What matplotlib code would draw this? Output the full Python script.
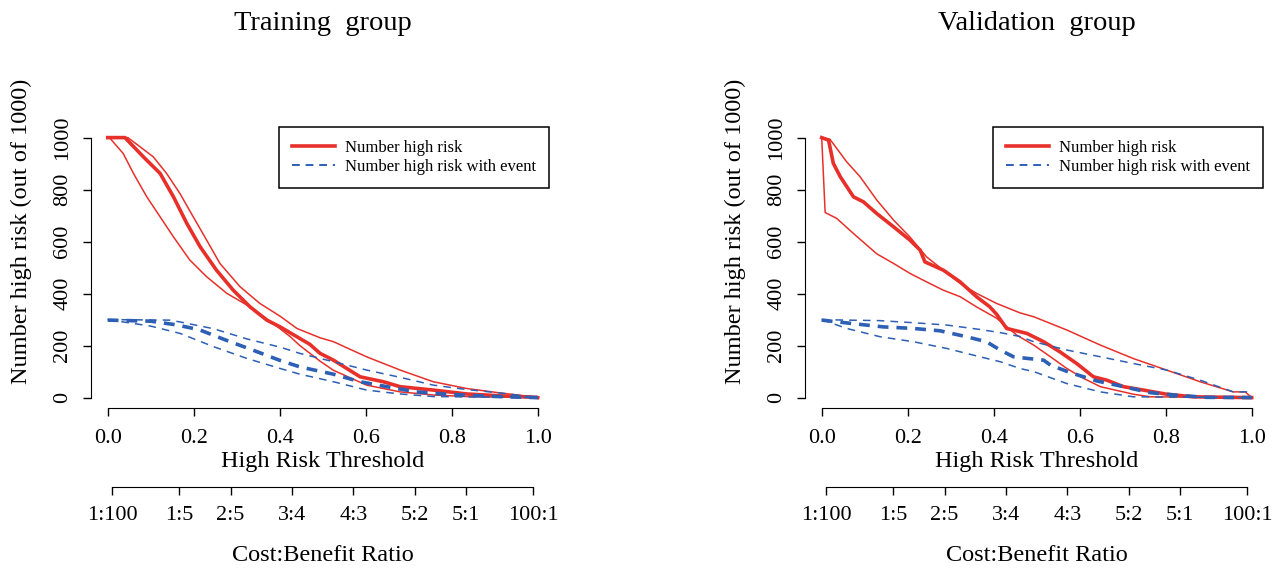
import matplotlib.pyplot as plt
from matplotlib.lines import Line2D

plt.rcParams['font.family'] = ['Liberation Serif', 'DejaVu Serif']

RED = '#e8302a'
BLUE = '#2d5fb5'

# ---- Training group (threshold, number out of 1000) ----
tr_hr_t = [0, .04, .083, .122, .153, .184, .215, .253, .292, .331, .37, .401,
           .44, .47, .494, .525, .587, .641, .68, .757, .835, .912, .997, 1.0]
tr_hr = [1000, 1000, 926, 862, 772, 670, 580, 490, 413, 349, 298, 272,
         234, 205, 170, 144, 80, 61, 42, 29, 14, 7, 1, 0]
tr_hr_hi_t = [0, .047, .106, .137, .168, .199, .23, .261, .308, .354, .401,
              .44, .494, .525, .602, .68, .757, .835, .912, .99, 1.0]
tr_hr_hi = [1000, 1000, 926, 862, 785, 695, 606, 516, 426, 362, 313,
            266, 230, 215, 157, 106, 61, 35, 18, 3, 0]
tr_hr_lo_t = [0, .004, .036, .06, .091, .122, .153, .191, .23, .277, .331,
              .385, .424, .447, .494, .525, .602, .68, .757, .835, 1.0]
tr_hr_lo = [1000, 1000, 939, 862, 772, 695, 618, 529, 465, 401, 349,
            285, 235, 200, 140, 105, 48, 22, 10, 4, 0]
tr_ev_t = [0, .1, .159, .213, .275, .337, .399, .447, .525, .587, .649, .718,
           .78, .858, .927, 1.0]
tr_ev = [298, 294, 280, 261, 221, 183, 144, 118, 90, 61, 42, 22, 14, 7, 3, 0]
tr_ev_hi_t = [0, .144, .168, .246, .323, .401, .447, .525, .602, .68, .757,
              .835, .912, 1.0]
tr_ev_hi = [300, 298, 291, 265, 226, 194, 170, 138, 106, 78, 48, 31, 18, 0]
tr_ev_lo_t = [0, .1, .168, .246, .323, .401, .447, .525, .602, .68, .757, 1.0]
tr_ev_lo = [300, 275, 247, 196, 151, 112, 90, 61, 29, 14, 4, 0]

# ---- Validation group ----
va_hr_t = [0, .016, .027, .043, .074, .097, .128, .167, .205, .229, .24,
           .283, .322, .36, .391, .407, .43, .477, .516, .554, .593,
           .632, .663, .702, .748, .802, .864, .996, 1.0]
va_hr = [1000, 990, 901, 850, 772, 753, 708, 657, 606, 567, 522,
         490, 445, 388, 349, 320, 266, 247, 215, 176, 131,
         80, 67, 42, 29, 13, 3, 0, 0]
va_hr_hi_t = [0, .019, .058, .089, .128, .167, .205, .244, .283, .322, .36,
              .407, .461, .493, .57, .648, .725, .802, .88, .957, .985, 1.0]
va_hr_hi = [1000, 994, 907, 850, 760, 683, 618, 541, 490, 439, 401,
            362, 326, 311, 260, 202, 150, 106, 61, 22, 22, 0]
va_hr_lo_t = [0, .008, .035, .074, .128, .167, .205, .244, .283, .322, .36,
              .407, .454, .493, .532, .57, .609, .648, .725, .764, 1.0]
va_hr_lo = [1000, 712, 689, 631, 553, 516, 478, 445, 413, 388, 349,
            305, 240, 202, 157, 112, 74, 42, 13, 3, 0]
va_ev_t = [0, .081, .143, .213, .275, .337, .383, .415, .446, .477, .516,
           .532, .578, .64, .702, .764, .833, .895, 1.0]
va_ev = [298, 283, 272, 266, 257, 234, 215, 183, 157, 151, 144,
         125, 96, 64, 42, 19, 8, 1, 0]
va_ev_hi_t = [0, .058, .136, .213, .291, .368, .415, .461, .493, .57, .648,
              .725, .802, .88, .957, .988, 1.0]
va_ev_hi = [300, 298, 296, 288, 279, 262, 250, 235, 215, 183, 157,
            131, 106, 67, 22, 22, 0]
va_ev_lo_t = [0, .058, .136, .213, .291, .368, .415, .461, .493, .57, .648,
              .725, 1.0]
va_ev_lo = [300, 266, 234, 215, 189, 157, 138, 112, 100, 54, 22, 3, 0]

x_ticks = [0.0, 0.2, 0.4, 0.6, 0.8, 1.0]
y_ticks = [0, 200, 400, 600, 800, 1000]
cb_ticks = [1 / 101, 1 / 6, 2 / 7, 3 / 7, 4 / 7, 5 / 7, 5 / 6, 100 / 101]
cb_labels = ['1:100', '1:5', '2:5', '3:4', '4:3', '5:2', '5:1', '100:1']

W, H = 1286, 568
fig = plt.figure(figsize=(W / 100, H / 100), dpi=100)


def panel(left_px, title, hr, hr_hi, hr_lo, ev, ev_hi, ev_lo):
    ax_w, ax_h = 464.4, 280.8
    ax = fig.add_axes([left_px / W, (H - 408) / H, ax_w / W, ax_h / H])
    ax.set_xlim(-0.04, 1.04)
    ax.set_ylim(-40, 1040)

    ax.plot(*hr, color=RED, lw=2.6)
    ax.plot(*hr_hi, color=RED, lw=1.1)
    ax.plot(*hr_lo, color=RED, lw=1.1)
    ax.plot(*ev, color=BLUE, lw=2.6, dashes=(3, 2.2))
    ax.plot(*ev_hi, color=BLUE, lw=1.1, dashes=(5, 4))
    ax.plot(*ev_lo, color=BLUE, lw=1.1, dashes=(5, 4))

    for s in ['top', 'right']:
        ax.spines[s].set_visible(False)
    ax.spines['left'].set_bounds(0, 1000)
    ax.spines['bottom'].set_bounds(0, 1)
    ax.set_xticks(x_ticks, ['%.1f' % v for v in x_ticks])
    ax.set_yticks(y_ticks)
    ax.tick_params(length=6, width=1, labelsize=16)
    ax.tick_params(axis='x', pad=9)
    ax.tick_params(axis='y', pad=7)
    for lab in ax.get_yticklabels():
        lab.set_rotation(90)
        lab.set_va('center')
    ax.set_xlabel('High Risk Threshold', fontsize=17.5, labelpad=2)

    sec = ax.secondary_xaxis(-0.28)
    sec.set_xticks(cb_ticks, cb_labels)
    sec.spines['bottom'].set_bounds(cb_ticks[0], cb_ticks[-1])
    sec.tick_params(length=6, width=1, labelsize=16, pad=8)
    sec.set_xlabel('Cost:Benefit Ratio', fontsize=17.5, labelpad=14)

    handles = [Line2D([], [], color=RED, lw=2.6),
               Line2D([], [], color=BLUE, lw=1.4, dashes=(4, 3))]
    leg = ax.legend(handles, ['Number high risk', 'Number high risk with event'],
                    loc='upper right', bbox_to_anchor=(1 - 6 / ax_w, 1),
                    borderaxespad=0, fontsize=12, fancybox=False,
                    edgecolor='black', framealpha=1, borderpad=0.75,
                    handlelength=2.6, handletextpad=0.6, labelspacing=0.2)
    leg.get_frame().set_linewidth(1.1)

    cx = (left_px + ax_w / 2) / W
    fig.text(cx, 1 - 24 / H, title, ha='center', va='center', fontsize=20.5)
    fig.text((left_px - 69) / W, 1 - 231 / H, 'Number high risk (out of 1000)',
             rotation=90, ha='center', va='center', fontsize=17.5)
    return ax


panel(90.5, 'Training  group', (tr_hr_t, tr_hr), (tr_hr_hi_t, tr_hr_hi),
      (tr_hr_lo_t, tr_hr_lo), (tr_ev_t, tr_ev), (tr_ev_hi_t, tr_ev_hi),
      (tr_ev_lo_t, tr_ev_lo))
panel(804.5, 'Validation  group', (va_hr_t, va_hr), (va_hr_hi_t, va_hr_hi),
      (va_hr_lo_t, va_hr_lo), (va_ev_t, va_ev), (va_ev_hi_t, va_ev_hi),
      (va_ev_lo_t, va_ev_lo))

fig.savefig('out.png', dpi=100)
